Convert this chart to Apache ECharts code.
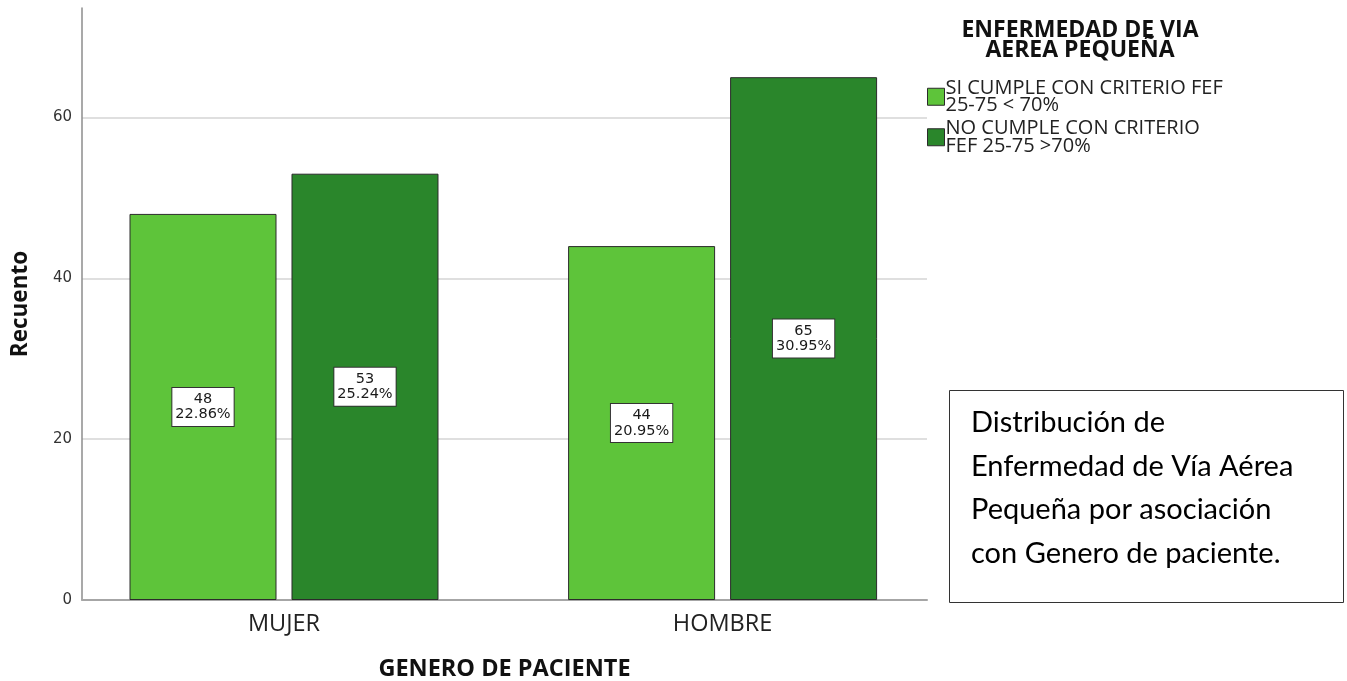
<!DOCTYPE html>
<html>
<head>
<meta charset="utf-8">
<script src="https://cdn.jsdelivr.net/npm/echarts@6/dist/echarts.min.js"></script>
<style>
  html, body { margin: 0; padding: 0; background: #ffffff; }
  #chart { width: 1347px; height: 681px; }
</style>
</head>
<body>
<div id="chart"></div>
<script>
// Gender of patient (x categories)
const categories = ['MUJER', 'HOMBRE'];
// Series: small airway disease criterion
const seriesNames = [
  'SI CUMPLE CON CRITERIO FEF\n25-75 < 70%',
  'NO CUMPLE CON CRITERIO\nFEF 25-75 >70%'
];
const countsSi = [48, 44];
const countsNo = [53, 65];
const pctSi = ['22.86%', '20.95%'];
const pctNo = ['25.24%', '30.95%'];
const yTicks = [0, 20, 40, 60];

const yMax = 73.6;
const colorSi = '#5ec43a';
const colorNo = '#2a862b';
const labelFont = 'DejaVu Sans';
const uiFont = 'Open Sans';

function bar(name, values, pcts, color) {
  return {
    name: name,
    type: 'bar',
    xAxisIndex: 1,
    yAxisIndex: 1,
    barWidth: 147,
    barGap: '10.2%',
    data: values.map((v, i) => ({ value: v, pct: pcts[i] })),
    itemStyle: { color: color, borderColor: '#2b2b2b', borderWidth: 1 },
    label: {
      show: true,
      position: 'inside',
      formatter: p => p.value + '\n' + p.data.pct,
      fontFamily: labelFont,
      fontSize: 14.5,
      lineHeight: 15.5,
      color: '#1a1a1a',
      backgroundColor: '#ffffff',
      borderColor: '#333',
      borderWidth: 1,
      padding: [4, 3, 3, 3],
      align: 'center'
    },
    emphasis: { disabled: true }
  };
}

const chart = echarts.init(document.getElementById('chart'), null, { renderer: 'canvas' });
chart.setOption({
  animation: false,
  backgroundColor: '#ffffff',
  title: {
    text: 'ENFERMEDAD DE VIA\nAEREA PEQUEÑA',
    left: 1080,
    top: 20,
    textAlign: 'center',
    padding: 0,
    textStyle: {
      fontFamily: uiFont,
      fontWeight: 'bold',
      fontSize: 23,
      lineHeight: 20,
      color: '#111'
    }
  },
  legend: {
    orient: 'vertical',
    left: 927,
    top: 78,
    padding: 0,
    itemWidth: 17,
    itemHeight: 17,
    itemGap: 3,
    icon: 'rect',
    selectedMode: false,
    textStyle: {
      fontFamily: uiFont,
      fontSize: 20,
      lineHeight: 17.5,
      color: '#222',
      padding: [0, 0, 0, -4]
    },
    data: seriesNames.map((n, i) => ({
      name: n,
      itemStyle: { color: i === 0 ? colorSi : colorNo, borderColor: '#2b2b2b', borderWidth: 1 }
    }))
  },
  grid: [
    // axis frame, gridlines and axis titles
    { left: 82, right: 420, top: 8, bottom: 81, outerBoundsMode: 'none', containLabel: false },
    // bars and category labels
    { left: 64.7, right: 405.1, top: 8, bottom: 81, outerBoundsMode: 'none', containLabel: false }
  ],
  xAxis: [
    {
      gridIndex: 0,
      type: 'category',
      data: categories,
      name: 'GENERO DE PACIENTE',
      nameLocation: 'middle',
      nameGap: 57,
      nameTextStyle: { fontFamily: uiFont, fontWeight: 'bold', fontSize: 23.5, color: '#111' },
      axisLine: { show: true, lineStyle: { color: '#a6a6a6', width: 2 } },
      axisTick: { show: false },
      axisLabel: { show: false }
    },
    {
      gridIndex: 1,
      type: 'category',
      data: categories,
      axisLine: { show: false },
      axisTick: { show: false },
      axisLabel: { fontFamily: uiFont, fontSize: 23.5, color: '#222', margin: 12 }
    }
  ],
  yAxis: [
    {
      gridIndex: 0,
      type: 'value',
      min: 0,
      max: yMax,
      interval: 20,
      name: 'Recuento',
      nameLocation: 'middle',
      nameGap: 50,
      nameTextStyle: { fontFamily: uiFont, fontWeight: 'bold', fontSize: 22.5, color: '#111' },
      axisLine: { show: true, lineStyle: { color: '#8c8c8c', width: 1.5 } },
      axisTick: { show: false },
      axisLabel: {
        fontFamily: labelFont,
        fontSize: 15,
        color: '#333',
        margin: 10,
        showMaxLabel: false,
        formatter: v => (yTicks.indexOf(v) >= 0 ? String(v) : '')
      },
      splitLine: { show: true, showMaxLine: false, lineStyle: { color: '#d4d4d4', width: 1.5 } }
    },
    {
      gridIndex: 1,
      type: 'value',
      min: 0,
      max: yMax,
      show: false,
      splitLine: { show: false }
    }
  ],
  series: [
    bar(seriesNames[0], countsSi, pctSi, colorSi),
    bar(seriesNames[1], countsNo, pctNo, colorNo)
  ],
  graphic: [
    {
      type: 'rect',
      left: 949,
      top: 390,
      shape: { width: 394, height: 212 },
      style: { fill: '#ffffff', stroke: '#333', lineWidth: 1 },
      z: 10
    },
    {
      type: 'text',
      left: 971,
      top: 401,
      style: {
        text: 'Distribución de\nEnfermedad de Vía Aérea\nPequeña por asociación\ncon Genero de paciente.',
        font: '29px Lato',
        lineHeight: 43.5,
        fill: '#000'
      },
      z: 11
    }
  ]
});
</script>
</body>
</html>
